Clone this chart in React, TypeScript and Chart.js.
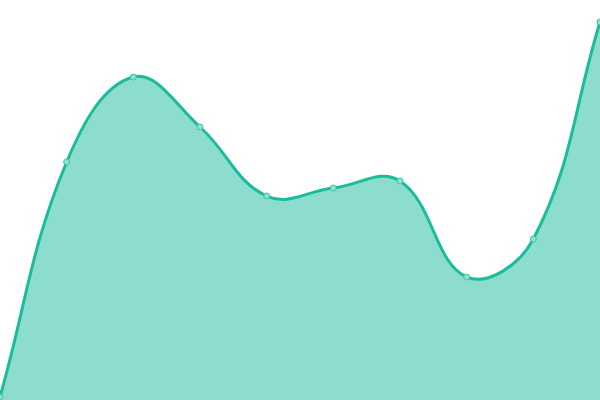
import React, { useEffect, useRef } from "react";
import { Chart, registerables } from "chart.js";

Chart.register(...registerables);

const labels = ["1", "2", "3", "4", "5", "6", "7", "8", "9", "10"];
const values = [3, 238, 323, 273, 204, 212, 219, 123, 161, 378];
const yMin = 0;
const yMax = 400;

export default function App() {
  const ref = useRef<HTMLCanvasElement | null>(null);
  useEffect(() => {
    document.body.style.margin = "0";
    const chart = new Chart(ref.current as HTMLCanvasElement, {
      type: "line",
      data: {
        labels,
        datasets: [
          {
            data: values,
            borderColor: "#1abc9c",
            backgroundColor: "rgba(26,188,156,0.5)",
            borderWidth: 3,
            fill: "origin",
            tension: 0.4,
            pointRadius: 3,
            pointBorderWidth: 1,
            pointBackgroundColor: "#8de1d0",
            pointBorderColor: "#3cc4a8",
          },
        ],
      },
      options: {
        animation: false,
        responsive: true,
        maintainAspectRatio: false,
        layout: { padding: 0, autoPadding: false },
        plugins: { legend: { display: false }, tooltip: { enabled: false } },
        scales: {
          x: { display: false },
          y: { display: false, min: yMin, max: yMax },
        },
      },
    });
    return () => chart.destroy();
  }, []);
  return (
    <div style={{ position: "fixed", left: 0, top: 0, width: 600, height: 400 }}>
      <canvas ref={ref} />
    </div>
  );
}
